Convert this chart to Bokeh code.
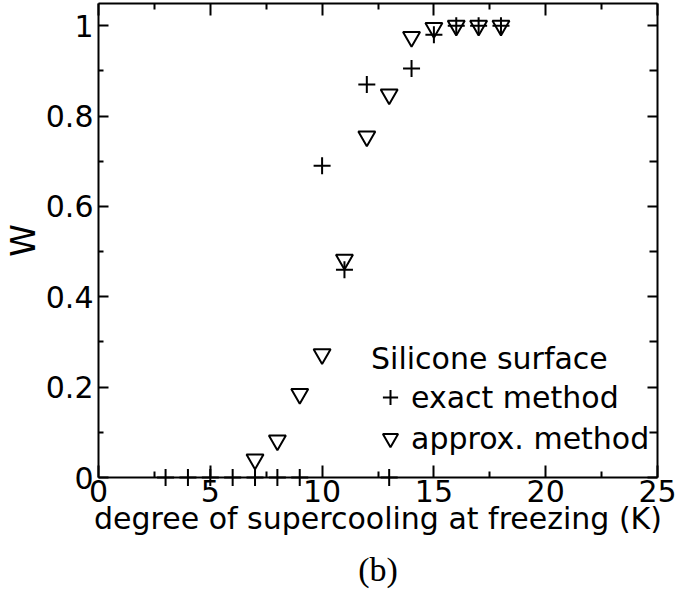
from bokeh.plotting import figure
from bokeh.models import (LinearAxis, FixedTicker, Range1d, Legend, LegendItem,
                          Title, ColumnDataSource)
from bokeh.embed import file_html
from bokeh.resources import INLINE

# ---- data ----
x_exact = [3, 4, 5, 6, 7, 8, 9, 10, 11, 12, 13, 14, 15, 16, 17, 18]
w_exact = [0, 0, 0, 0, 0, 0, 0, 0.69, 0.46, 0.87, 0, 0.905, 0.98, 1.0, 1.0, 1.0]
x_approx = [7, 8, 9, 10, 11, 12, 13, 14, 15, 16, 17, 18]
w_approx = [0.04, 0.082, 0.185, 0.273, 0.482, 0.755, 0.848, 0.975, 0.995, 1.0, 1.0, 1.0]

x_ticks = [0, 5, 10, 15, 20, 25]
x_tick_labels = ["0", "5", "10", "15", "20", "25"]
x_minor = [2.5, 7.5, 12.5, 17.5, 22.5]
y_ticks = [0, 0.2, 0.4, 0.6, 0.8, 1.0]
y_tick_labels = ["0", "0.2", "0.4", "0.6", "0.8", "1"]
y_minor = [0.1, 0.3, 0.5, 0.7, 0.9]

x_title = "degree of supercooling at freezing (K)"
y_title = "W"
legend_title = "Silicone surface"
series_names = ["exact method", "approx. method"]
panel_label = "(b)"

FONT = "DejaVu Sans"
FS = "30px"

p = figure(frame_width=559, frame_height=474,
           x_range=Range1d(0, 25), y_range=Range1d(0, 1.049),
           output_backend="svg", toolbar_location=None,
           min_border_left=91, min_border_right=26, min_border_top=3,
           min_border_bottom=100,
           background_fill_color="white", border_fill_color="white",
           outline_line_color=None,
           x_axis_label=x_title, y_axis_label=y_title)
p.xgrid.visible = False
p.ygrid.visible = False


def style_axis(ax, ticks, minor, labels, tick_in, minor_in, show_labels=True):
    ax.ticker = FixedTicker(ticks=ticks, minor_ticks=minor)
    ax.axis_line_width = 2
    ax.axis_line_color = "black"
    ax.major_tick_line_width = 2
    ax.minor_tick_line_width = 2
    ax.major_tick_line_color = "black"
    ax.minor_tick_line_color = "black"
    ax.major_tick_in = tick_in
    ax.major_tick_out = 0
    ax.minor_tick_in = minor_in
    ax.minor_tick_out = 0
    if show_labels:
        ax.major_label_overrides = dict(zip(ticks, labels))
        ax.major_label_text_font = FONT
        ax.major_label_text_font_size = FS
        ax.major_label_text_color = "black"
    else:
        ax.major_label_overrides = {t: "" for t in ticks}
        ax.major_label_text_font_size = "1px"
        ax.major_label_standoff = 0


xa = p.xaxis[0]
style_axis(xa, x_ticks, x_minor, x_tick_labels, 12, 6)
xa.major_label_standoff = 2
xa.axis_label_text_font = FONT
xa.axis_label_text_font_size = FS
xa.axis_label_text_font_style = "normal"
xa.axis_label_text_color = "black"
xa.axis_label_standoff = -4

ya = p.yaxis[0]
style_axis(ya, y_ticks, y_minor, y_tick_labels, 10, 5)
ya.major_label_standoff = 5
ya.axis_label_text_font = FONT
ya.axis_label_text_font_size = "33px"
ya.axis_label_text_font_style = "normal"
ya.axis_label_text_color = "black"
ya.axis_label_standoff = 0

top = LinearAxis()
style_axis(top, x_ticks, x_minor, x_tick_labels, 12, 6, show_labels=False)
p.add_layout(top, "above")
right = LinearAxis()
style_axis(right, y_ticks, y_minor, y_tick_labels, 10, 8, show_labels=False)
p.add_layout(right, "right")

src_exact = ColumnDataSource(dict(x=x_exact, w=w_exact))
src_approx = ColumnDataSource(dict(x=x_approx, w=w_approx))

r_approx = p.scatter("x", "w", source=src_approx, marker="inverted_triangle",
                     size=17, fill_color=None, line_color="black", line_width=2)
r_exact = p.scatter("x", "w", source=src_exact, marker="cross",
                    size=17, line_color="black", line_width=2)
r_exact.level = "overlay"

legend = Legend(
    items=[LegendItem(label=series_names[0], renderers=[r_exact]),
           LegendItem(label=series_names[1], renderers=[r_approx])],
    title=legend_title, location=(273, 20),
    title_text_font=FONT, title_text_font_size=FS, title_text_font_style="normal",
    title_text_color="black", title_standoff=2,
    label_text_font=FONT, label_text_font_size=FS, label_text_color="black",
    glyph_width=38, glyph_height=38, label_height=38, label_standoff=2,
    spacing=3, padding=0, margin=0,
    border_line_color=None, background_fill_alpha=0)
p.add_layout(legend)

p.add_layout(Title(text=panel_label, align="center", text_font="Liberation Serif",
                   text_font_size="34px", text_font_style="normal",
                   text_color="black", standoff=21), "below")

open("out.html", "w").write(file_html(p, INLINE))
